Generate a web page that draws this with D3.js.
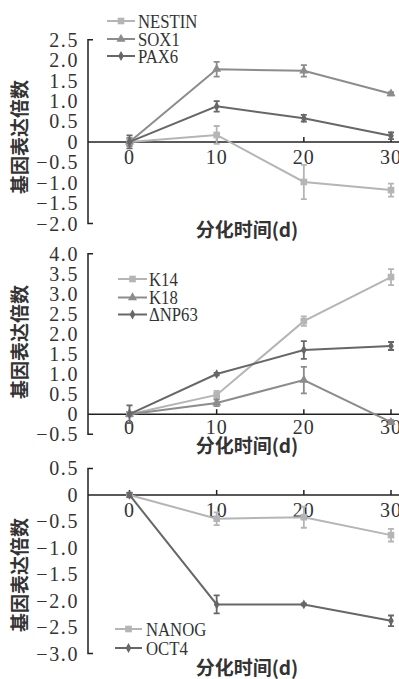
<!DOCTYPE html>
<html>
<head>
<meta charset="utf-8">
<script src="https://cdn.jsdelivr.net/npm/d3@7"></script>
<style>
  html, body { margin: 0; padding: 0; background: #fff; }
  svg { display: block; }
</style>
</head>
<body>
<svg id="chart" width="399" height="679"></svg>
<script>
// Days of differentiation, shared by all three panels.
var days = [0, 10, 20, 30];
var xTickValues = [0, 10, 20, 30];

// Top panel: neural markers.
var neuralGenes = ["NESTIN", "SOX1", "PAX6"];
var nestinMean = [0.0, 0.17, -0.98, -1.18];
var nestinErr  = [0.08, 0.22, 0.42, 0.16];
var sox1Mean   = [0.0, 1.78, 1.74, 1.18];
var sox1Err    = [0.10, 0.18, 0.14, 0.04];
var pax6Mean   = [0.0, 0.87, 0.58, 0.15];
var pax6Err    = [0.16, 0.13, 0.08, 0.08];
var neuralTicks = [2.5, 2, 1.5, 1, 0.5, 0, -0.5, -1, -1.5, -2];

// Middle panel: epithelial markers.
var epiGenes = ["K14", "K18", "\u0394NP63"];
var k14Mean   = [0.0, 0.48, 2.32, 3.42];
var k14Err    = [0.05, 0.10, 0.12, 0.20];
var k18Mean   = [0.0, 0.28, 0.85, -0.20];
var k18Err    = [0.05, 0.08, 0.33, 0.05];
var dnp63Mean = [0.0, 1.00, 1.60, 1.70];
var dnp63Err  = [0.22, 0.03, 0.22, 0.10];
var epiTicks = [4, 3.5, 3, 2.5, 2, 1.5, 1, 0.5, 0, -0.5];

// Bottom panel: pluripotency markers.
var pluriGenes = ["NANOG", "OCT4"];
var nanogMean = [0.0, -0.45, -0.42, -0.76];
var nanogErr  = [0.03, 0.12, 0.20, 0.12];
var oct4Mean  = [0.0, -2.07, -2.07, -2.38];
var oct4Err   = [0.04, 0.17, 0.02, 0.10];
var pluriTicks = [0.5, 0, -0.5, -1, -1.5, -2, -2.5, -3];

var yTitle = "基因表达倍数";
var xTitle = "分化时间(d)";

// Look and layout.
var my = {
  axisX: 88,
  rightEdge: 399,
  serif: "'Liberation Serif', 'DejaVu Serif', serif",
  cjk: "'Noto Sans CJK SC', sans-serif",
  squeeze: "scale(0.88,1)",
  textColor: "#333",
  axisColor: "#222",
  light: { color: "#b5b5b5", symbol: d3.symbolSquare, size: 44 },
  mid:   { color: "#8c8c8c", symbol: d3.symbolTriangle, size: 36 },
  dark:  { color: "#676767", symbol: d3.symbolDiamond, size: 28 }
};

var panels = [
  {
    genes: neuralGenes, means: [nestinMean, sox1Mean, pax6Mean], errs: [nestinErr, sox1Err, pax6Err],
    styles: [my.light, my.mid, my.dark],
    ticks: neuralTicks, yDomain: [-2, 2.5], yRange: [223.6, 39.8],
    xTitleY: 230, yTitleY: 137, xLabelGap: 15,
    legend: { x0: 107, x1: 135, tx: 138, ys: [21, 39, 56] }
  },
  {
    genes: epiGenes, means: [k14Mean, k18Mean, dnp63Mean], errs: [k14Err, k18Err, dnp63Err],
    styles: [my.light, my.mid, my.dark],
    ticks: epiTicks, yDomain: [-0.5, 4], yRange: [434.2, 253.8],
    xTitleY: 446, yTitleY: 342, xLabelGap: 13,
    legend: { x0: 118, x1: 147, tx: 149, ys: [279, 297.5, 314.5] }
  },
  {
    genes: pluriGenes, means: [nanogMean, oct4Mean], errs: [nanogErr, oct4Err],
    styles: [my.light, my.dark],
    ticks: pluriTicks, yDomain: [-3, 0.5], yRange: [653.6, 468.5],
    xTitleY: 668, yTitleY: 575, xLabelGap: 15,
    legend: { x0: 115, x1: 142, tx: 146, ys: [629, 648] }
  }
];

var x = d3.scaleLinear().domain([0, 30]).range([129.5, 391]);
var svg = d3.select("#chart");

function tickText(d) {
  return d === 0 ? "0" : d3.format(".1f")(d);
}

panels.forEach(function(p) {
  var y = d3.scaleLinear().domain(p.yDomain).range(p.yRange);
  var g = svg.append("g");
  var y0 = y(0);

  // y axis: labels from d3.axisLeft, the bracket drawn by hand.
  var yAxis = g.append("g")
    .attr("transform", "translate(" + my.axisX + ",0)")
    .call(d3.axisLeft(y).tickValues(p.ticks).tickFormat(tickText).tickSize(0).tickPadding(9));
  yAxis.select(".domain").remove();
  yAxis.selectAll("text")
    .style("font-family", my.serif).style("font-size", "20px").style("letter-spacing", "1.6px")
    .attr("fill", my.textColor);

  var yTop = y(p.yDomain[1]), yBot = y(p.yDomain[0]);
  g.append("path")
    .attr("d", "M" + (my.axisX + 5) + "," + yTop + "H" + my.axisX + "V" + yBot + "H" + (my.axisX + 5))
    .attr("fill", "none").attr("stroke", my.axisColor).attr("stroke-width", 1.5);

  // x axis along y = 0, ticks pointing up.
  g.append("line")
    .attr("x1", my.axisX).attr("x2", my.rightEdge).attr("y1", y0).attr("y2", y0)
    .attr("stroke", my.axisColor).attr("stroke-width", 1.5);
  g.selectAll(".xtick").data(xTickValues).enter().append("line")
    .attr("x1", function(d) { return x(d); }).attr("x2", function(d) { return x(d); })
    .attr("y1", y0).attr("y2", y0 - 5)
    .attr("stroke", my.axisColor).attr("stroke-width", 1.5);
  g.selectAll(".xlab").data(xTickValues).enter().append("text")
    .attr("x", function(d) { return x(d); }).attr("y", y0 + p.xLabelGap)
    .attr("text-anchor", "middle").attr("dy", "0.36em")
    .style("font-family", my.serif).style("font-size", "20px").style("letter-spacing", "1px")
    .attr("fill", my.textColor)
    .text(function(d) { return d; });

  // Titles.
  g.append("text")
    .attr("transform", "translate(20," + p.yTitleY + ") rotate(-90)")
    .attr("text-anchor", "middle").attr("dy", "0.36em")
    .style("font-family", my.cjk).style("font-size", "19px").style("font-weight", "bold")
    .attr("fill", my.textColor).text(yTitle);
  g.append("text")
    .attr("x", 247).attr("y", p.xTitleY)
    .attr("text-anchor", "middle").attr("dy", "0.36em")
    .style("font-family", my.cjk).style("font-size", "19px").style("font-weight", "bold")
    .attr("fill", my.textColor).text(xTitle);

  // Series: line, error bars, markers.
  var line = d3.line().x(function(d) { return x(d.day); }).y(function(d) { return y(d.v); });
  p.genes.forEach(function(gene, i) {
    var st = p.styles[i];
    var pts = days.map(function(day, j) { return { day: day, v: p.means[i][j], e: p.errs[i][j] }; });
    g.append("path").datum(pts)
      .attr("d", line).attr("fill", "none")
      .attr("stroke", st.color).attr("stroke-width", 2);
    g.selectAll(".eb" + i).data(pts).enter().append("path")
      .attr("d", function(d) {
        var cx = x(d.day), top = y(d.v + d.e), bot = y(d.v - d.e);
        return "M" + (cx - 3) + "," + top + "H" + (cx + 3) + "M" + cx + "," + top + "V" + bot +
               "M" + (cx - 3) + "," + bot + "H" + (cx + 3);
      })
      .attr("fill", "none").attr("stroke", st.color).attr("stroke-width", 1.8);
    g.selectAll(".mk" + i).data(pts).enter().append("path")
      .attr("transform", function(d) { return "translate(" + x(d.day) + "," + y(d.v) + ")"; })
      .attr("d", d3.symbol().type(st.symbol).size(st.size))
      .attr("fill", st.color);

    // Legend entry.
    var ly = p.legend.ys[i];
    g.append("line")
      .attr("x1", p.legend.x0).attr("x2", p.legend.x1).attr("y1", ly).attr("y2", ly)
      .attr("stroke", st.color).attr("stroke-width", 2);
    g.append("path")
      .attr("transform", "translate(" + ((p.legend.x0 + p.legend.x1) / 2) + "," + ly + ")")
      .attr("d", d3.symbol().type(st.symbol).size(st.size))
      .attr("fill", st.color);
    g.append("text")
      .attr("transform", "translate(" + p.legend.tx + "," + ly + ") " + my.squeeze)
      .attr("dy", "0.36em")
      .style("font-family", my.serif).style("font-size", "19px").attr("fill", my.textColor)
      .text(gene);
  });
});
</script>
</body>
</html>
